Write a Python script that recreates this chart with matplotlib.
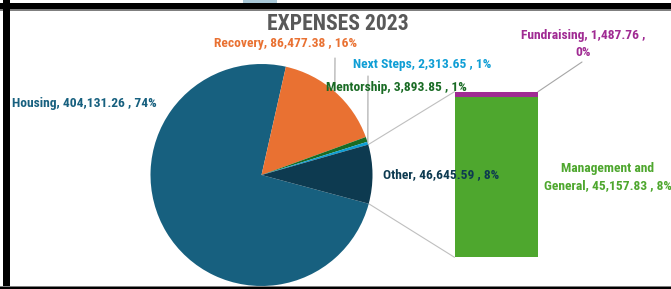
import matplotlib
matplotlib.use("Agg")
import matplotlib.pyplot as plt
from matplotlib import font_manager as fm
from matplotlib.patches import Rectangle, ConnectionPatch
import numpy as np

# DATOS
pie_labels = ["Housing", "Recovery", "Mentorship", "Next Steps", "Other"]
pie_values = [404131.26, 86477.38, 3893.85, 2313.65, 46645.59]
pie_pct = ["74%", "16%", "1%", "1%", "8%"]
pie_colors = ["#17607F", "#E97132", "#196B24", "#0F9ED5", "#0D3A50"]

bar_labels = ["Management and\nGeneral", "Fundraising"]
bar_values = [45157.83, 1487.76]
bar_pct = ["8%", "0%"]
bar_colors = ["#4EA72E", "#A02B93"]

title = "EXPENSES 2023"

W, H = 671, 289

# FUENTE: una estrecha si existe
nombres = {f.name for f in fm.fontManager.ttflist}
STRETCH = "normal"
if "Liberation Sans Narrow" in nombres:
    FONT = "Liberation Sans Narrow"
elif "Roboto Condensed" in nombres:
    FONT = "Roboto Condensed"
elif any(f.name == "DejaVu Sans" and f.stretch == "condensed" for f in fm.fontManager.ttflist):
    FONT, STRETCH = "DejaVu Sans", "condensed"
else:
    FONT = "Roboto"


def px(x, y):
    # pixeles (origen arriba-izquierda) -> fraccion de figura
    return x / W, 1 - y / H


fig = plt.figure(figsize=(W / 100, H / 100), dpi=100)
fig.patch.set_facecolor("white")

# PIE
cx, cy, r = 261.5, 175.0, 111.0
ax_pie = fig.add_axes([(cx - r) / W, (H - cy - r) / H, 2 * r / W, 2 * r / H])
wedges, _ = ax_pie.pie(pie_values, colors=pie_colors, startangle=-15,
                       counterclock=False, radius=1)
ax_pie.set_xlim(-1, 1)
ax_pie.set_ylim(-1, 1)
ax_pie.axis("off")

# BARRA (desglose de Other)
ax_bar = fig.add_axes([454.5 / W, (H - 257.3) / H, 83.5 / W, 165.6 / H])
bottom = 0
for v, c in zip(bar_values, bar_colors):
    ax_bar.bar(0, v, width=1, bottom=bottom, color=c)
    bottom += v
ax_bar.set_xlim(-0.5, 0.5)
ax_bar.set_ylim(0, sum(bar_values))
ax_bar.axis("off")

# lineas de conexion pie -> barra
w_other = wedges[-1]
for ang, yb in [(w_other.theta2, sum(bar_values)), (w_other.theta1, 0)]:
    a = np.deg2rad(ang)
    con = ConnectionPatch(xyA=(np.cos(a), np.sin(a)), coordsA=ax_pie.transData,
                          xyB=(-0.5, yb), coordsB=ax_bar.transData,
                          color="#BFBFBF", lw=0.8, zorder=0)
    fig.add_artist(con)


def punto_medio(w):
    a = np.deg2rad((w.theta1 + w.theta2) / 2)
    return np.cos(a), np.sin(a)


# lineas guia
guia = dict(arrowstyle="-", color="#A6A6A6", lw=0.8, shrinkA=0, shrinkB=0)
ax_pie.annotate("", xy=punto_medio(wedges[1]), xycoords="data",
                xytext=(335, H - 58), textcoords="figure pixels", arrowprops=guia)
ax_pie.annotate("", xy=punto_medio(wedges[3]), xycoords="data",
                xytext=(368, H - 76), textcoords="figure pixels", arrowprops=guia)
ax_bar.annotate("", xy=(0.5, sum(bar_values)), xycoords="data",
                xytext=(582, H - 62), textcoords="figure pixels", arrowprops=guia)


# ETIQUETAS
def etiqueta(nombre, valor, pct):
    return f"{nombre}, {valor:,.2f} , {pct}"


txt = dict(fontsize=9, fontweight="bold", family=FONT, fontstretch=STRETCH,
           va="center", linespacing=1.45)
textos = []  # (texto, ancho objetivo en px)
t = fig.text(*px(12, 103), etiqueta(pie_labels[0], pie_values[0], pie_pct[0]),
             color=pie_colors[0], ha="left", **txt)
textos.append((t, 150))
t = fig.text(*px(286, 44), etiqueta(pie_labels[1], pie_values[1], pie_pct[1]),
             color=pie_colors[1], ha="center", **txt)
textos.append((t, 136))
t = fig.text(*px(396, 88), etiqueta(pie_labels[2], pie_values[2], pie_pct[2]),
             color=pie_colors[2], ha="center", zorder=5, **txt)
textos.append((t, 140))
t = fig.text(*px(422, 64), etiqueta(pie_labels[3], pie_values[3], pie_pct[3]),
             color=pie_colors[3], ha="center", **txt)
textos.append((t, 136))
t = fig.text(*px(441, 175), etiqueta(pie_labels[4], pie_values[4], pie_pct[4]),
             color=pie_colors[4], ha="center", zorder=5, **txt)
textos.append((t, 118))
t = fig.text(*px(583, 44), etiqueta(bar_labels[1], bar_values[1], bar_pct[1]).replace(" , 0", " ,\n0"),
             color=bar_colors[1], ha="center", **txt)
textos.append((t, 130))
t = fig.text(*px(608, 177), etiqueta(bar_labels[0], bar_values[0], bar_pct[0]),
             color=bar_colors[0], ha="center", **txt)
textos.append((t, 124))

# TITULO
tit = fig.text(*px(338, 24), title, fontsize=16, fontweight="bold", family=FONT,
               fontstretch=STRETCH, color="#595959", ha="center", va="center")

# ajustar tamaño de letra al ancho del original
rend = fig.canvas.get_renderer()
ratios = [obj / t.get_window_extent(rend).width for t, obj in textos]
fs = 9 * float(np.mean(ratios))
for t, _ in textos:
    t.set_fontsize(fs)
tit.set_fontsize(16 * 142 / tit.get_window_extent(rend).width)

# MARCO (captura de pantalla)
fig.add_artist(Rectangle(px(0, 9.5), 1, 6.5 / H, transform=fig.transFigure,
                         color="black", lw=0))
fig.add_artist(Rectangle(px(0, 10.5), 1, 1 / H, transform=fig.transFigure,
                         color="#7F7F7F", lw=0))
fig.add_artist(Rectangle(px(3, 289), 7 / W, 1, transform=fig.transFigure,
                         color="black", lw=0))
fig.add_artist(Rectangle(px(0, 289), 1, 2.5 / H, transform=fig.transFigure,
                         color="black", lw=0))
fig.add_artist(Rectangle(px(0, 286.5), 1, 1 / H, transform=fig.transFigure,
                         color="#7F7F7F", lw=0))
fig.add_artist(Rectangle(px(243, 3), 34 / W, 3 / H, transform=fig.transFigure,
                         color="#A9C8D8", lw=0))

fig.savefig("out.png", dpi=100)
